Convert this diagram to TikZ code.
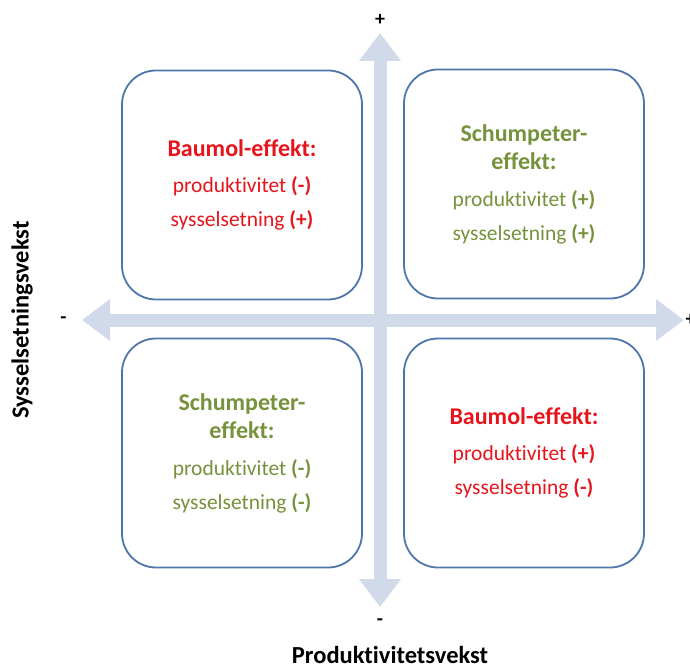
\documentclass[tikz,border=0pt]{standalone}
\usepackage{fontspec}
\setmainfont{Carlito}[Ligatures=NoCommon]
\usetikzlibrary{positioning,arrows.meta}
\definecolor{axisgrey}{HTML}{D0DAE9}
\definecolor{boxblue}{HTML}{4F76AB}
\definecolor{baumolred}{HTML}{E8141C}
\definecolor{schumgreen}{HTML}{76923C}
\newcommand{\effhead}[1]{{\bfseries\fontsize{24}{28}\selectfont #1}}
\begin{document}
\begin{tikzpicture}[
  x=1pt, y=-1pt,
  quadbox/.style={draw=boxblue, line width=1.8pt, fill=white, rounded corners=34pt,
    minimum width=240pt, minimum height=229pt, align=center,
    font=\fontsize{21.5}{34}\selectfont},
  axisarrow/.style={axisgrey, line width=13pt,
    {Triangle[width=40pt,length=28pt]}-{Triangle[width=40pt,length=28pt]}},
  signlabel/.style={font=\bfseries\fontsize{20}{24}\selectfont},
  axislabel/.style={font=\bfseries\fontsize{24.5}{28}\selectfont}
]
\useasboundingbox (0,0) rectangle (690,668);

%Axes
\coordinate (top) at (380,33);
\coordinate (bottom) at (380,607);
\coordinate (left) at (82,320);
\coordinate (right) at (684,320);
\draw[axisarrow] (bottom) -- (top);
\draw[axisarrow] (left) -- (right);

%Boxes
\node[quadbox, text=baumolred] (tl) at (242,185)
  {\effhead{Baumol-effekt:}\\[2pt]
   produktivitet \textbf{(-)}\\ sysselsetning \textbf{(+)}};
\node[quadbox, text=schumgreen] (tr) at (524,184)
  {\effhead{Schumpeter-}\\[-6pt]
   \effhead{effekt:}\\[3pt]
   produktivitet \textbf{(+)}\\ sysselsetning \textbf{(+)}};
\node[quadbox, text=schumgreen] (bl) at (242,453)
  {\effhead{Schumpeter-}\\[-6pt]
   \effhead{effekt:}\\[3pt]
   produktivitet \textbf{(-)}\\ sysselsetning \textbf{(-)}};
\node[quadbox, text=baumolred] (br) at (524,453)
  {\effhead{Baumol-effekt:}\\[2pt]
   produktivitet \textbf{(+)}\\ sysselsetning \textbf{(-)}};

%Labels
\node[signlabel, above=4pt of top] (plusy) {+};
\node[signlabel, below=8pt of bottom] (minusy) {-};
\node[signlabel, left=12pt of left] (minusx) {-};
\node[signlabel, right=-2pt of right] (plusx) {+};
\node[axislabel, anchor=base] (xlabel) at (390,663) {Produktivitetsvekst};
\node[axislabel, rotate=90, anchor=north] (ylabel) at (8,320) {Sysselsetningsvekst};
\end{tikzpicture}
\end{document}
